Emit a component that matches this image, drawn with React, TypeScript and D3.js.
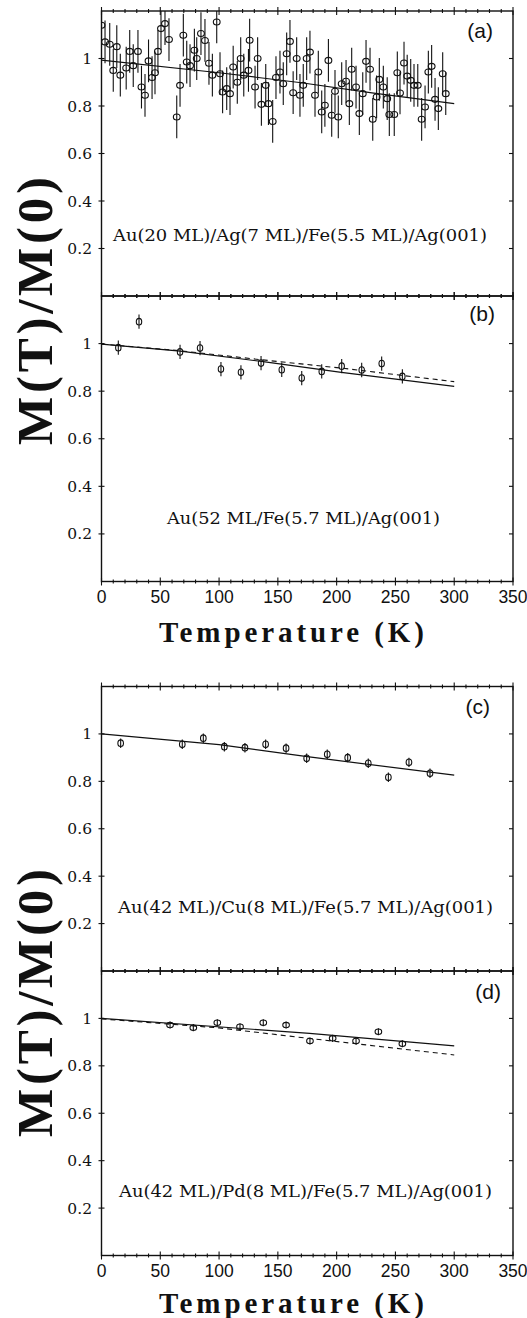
import React from 'react';
import * as d3 from 'd3';

// ---------- data ----------
const xTickLabels = ['0', '50', '100', '150', '200', '250', '300', '350'];
const yTickLabels = ['0.2', '0.4', '0.6', '0.8', '1'];

// panel (a)
const tempA = [0, 3, 7, 10, 13, 16, 21, 24, 27, 31, 34, 37, 40, 43, 45.5, 48, 50.6, 54, 57.4, 64, 66.8, 69.6, 72.5, 75.3, 79, 81, 84.6, 88, 91.4, 94.3, 98, 100.8, 103, 106.5, 109.3, 112, 115.5, 118.4, 121, 125, 126, 130.6, 132.8, 136, 139.7, 142, 145.6, 148.4, 151.8, 154.6, 157.5, 160.3, 163, 166, 168.8, 171.6, 174.5, 177.3, 181.6, 184.4, 187.3, 190, 193, 195.8, 198.6, 201.4, 204.3, 208, 210.8, 212.8, 216.5, 219.3, 222.2, 225, 228.4, 230.7, 234, 236.3, 239.7, 243, 244.8, 249, 251.6, 253.9, 257.3, 260, 263, 265.8, 269, 272.3, 275.2, 278, 280.8, 283.7, 286.5, 290.2, 292.8];
const magA = [1.14, 1.07, 1.06, 0.95, 1.05, 0.93, 0.96, 1.03, 0.97, 1.03, 0.88, 0.845, 0.99, 0.92, 0.94, 1.03, 1.126, 1.147, 1.08, 0.754, 0.887, 1.098, 0.985, 0.97, 1.035, 1.0, 1.105, 1.076, 0.98, 0.93, 1.154, 0.936, 0.859, 0.873, 0.852, 0.964, 0.9, 1.0, 0.93, 0.95, 1.077, 0.88, 1.0, 0.807, 0.887, 0.81, 0.735, 0.92, 0.943, 0.894, 1.02, 1.072, 0.856, 1.0, 0.845, 0.887, 1.0, 1.027, 0.845, 0.943, 0.775, 0.803, 0.992, 0.761, 0.862, 0.754, 0.894, 0.904, 0.81, 0.955, 0.88, 0.768, 0.852, 0.988, 0.955, 0.744, 0.838, 0.912, 0.88, 0.831, 0.764, 0.764, 0.94, 0.855, 0.981, 0.926, 0.908, 0.887, 0.887, 0.744, 0.796, 0.943, 0.967, 0.828, 0.789, 0.936, 0.852];
const errA = 0.09;
const fitSolidA: [number, number][] = [[0, 0.993], [100, 0.94], [170, 0.898], [230, 0.855], [300, 0.81]];

// panel (b)
const tempB = [14.3, 31.9, 66.8, 83.8, 101.6, 118.6, 135.7, 153.3, 170.3, 187.3, 204.3, 221.3, 238.3, 255.9];
const magB = [0.983, 1.092, 0.965, 0.981, 0.893, 0.879, 0.918, 0.89, 0.855, 0.883, 0.905, 0.889, 0.916, 0.862];
const errB = 0.03;
const fitSolidB: [number, number][] = [[0, 0.998], [67, 0.968], [136, 0.925], [204, 0.879], [300, 0.82]];
const fitDashB: [number, number][] = [[0, 0.998], [67, 0.97], [136, 0.932], [204, 0.897], [300, 0.84]];

// panel (c)
const tempC = [16.3, 68.7, 86.6, 104.5, 122, 139.6, 157, 174.5, 192, 209.4, 226.9, 244, 261.5, 279.4];
const magC = [0.961, 0.956, 0.982, 0.946, 0.942, 0.956, 0.94, 0.897, 0.914, 0.9, 0.876, 0.817, 0.88, 0.834];
const errC = 0.02;
const fitSolidC: [number, number][] = [[0, 1.0], [100, 0.955], [175, 0.904], [300, 0.826]];

// panel (d)
const tempD = [58.3, 78.1, 98.5, 117.8, 137.6, 157, 177.3, 196.6, 216.5, 235.5, 255.9];
const magD = [0.972, 0.961, 0.982, 0.965, 0.982, 0.972, 0.905, 0.916, 0.905, 0.944, 0.893];
const errD = 0.015;
const fitSolidD: [number, number][] = [[0, 1.0], [177, 0.937], [300, 0.884]];
const fitDashD: [number, number][] = [[0, 0.998], [100, 0.96], [176, 0.916], [300, 0.846]];

const labelA = 'Au(20 ML)/Ag(7 ML)/Fe(5.5 ML)/Ag(001)';
const labelB = 'Au(52 ML/Fe(5.7 ML)/Ag(001)';
const labelC = 'Au(42 ML)/Cu(8 ML)/Fe(5.7 ML)/Ag(001)';
const labelD = 'Au(42 ML)/Pd(8 ML)/Fe(5.7 ML)/Ag(001)';

// ---------- layout ----------
const LEFT = 101.5;
const RIGHT = 513;
const SERIF = '"DejaVu Serif", serif';
const TITLE = '"Liberation Serif", "Times New Roman", serif';
const SANS = '"Liberation Sans", Arial, sans-serif';

const x = d3.scaleLinear().domain([0, 350]).range([LEFT, RIGHT]);
const minorTicks = d3.range(0, 351, 10);

type PanelProps = {
  id: string;
  top: number;
  bottom: number;
  tag: string;
  tagX: number;
  tagY: number;
  text: string;
  textX0: number;
  textX1: number;
  textY: number;
  temps: number[];
  mags: number[];
  err: number;
  rx: number;
  ry: number;
  solid: [number, number][];
  dashed?: [number, number][];
};

function Panel(p: PanelProps) {
  const y = d3.scaleLinear().domain([0, 1.2]).range([p.bottom, p.top]);
  const line = d3.line<[number, number]>().x(d => x(d[0])).y(d => y(d[1]));
  const yTicks = [0.2, 0.4, 0.6, 0.8, 1.0];
  return (
    <g>
      <defs>
        <clipPath id={`clip-${p.id}`}>
          <rect x={LEFT} y={p.top} width={RIGHT - LEFT} height={p.bottom - p.top} />
        </clipPath>
      </defs>
      <g clipPath={`url(#clip-${p.id})`}>
        <path d={line(p.solid) || ''} fill="none" stroke="#111" strokeWidth={1.2} />
        {p.dashed && (
          <path d={line(p.dashed) || ''} fill="none" stroke="#111" strokeWidth={1.1} strokeDasharray="5,4" />
        )}
        {p.temps.map((t, i) => (
          <g key={i}>
            <line x1={x(t)} x2={x(t)} y1={y(p.mags[i] - p.err)} y2={y(p.mags[i] + p.err)} stroke="#111" strokeWidth={1.1} />
            <ellipse cx={x(t)} cy={y(p.mags[i])} rx={p.rx} ry={p.ry} fill="none" stroke="#111" strokeWidth={1.1} />
          </g>
        ))}
      </g>
      <rect x={LEFT} y={p.top} width={RIGHT - LEFT} height={p.bottom - p.top} fill="none" stroke="#111" strokeWidth={1.4} />
      {minorTicks.map(v => {
        const major = v % 50 === 0;
        const l = major ? 4 : 2;
        return (
          <g key={v}>
            <line x1={x(v)} x2={x(v)} y1={p.bottom - l} y2={p.bottom + l} stroke="#111" strokeWidth={1.1} />
            <line x1={x(v)} x2={x(v)} y1={p.top - l} y2={p.top + l} stroke="#111" strokeWidth={1.1} />
          </g>
        );
      })}
      {yTicks.map((v, i) => (
        <g key={v}>
          <line x1={LEFT - 3} x2={LEFT + 3} y1={y(v)} y2={y(v)} stroke="#111" strokeWidth={1.1} />
          <line x1={RIGHT - 4} x2={RIGHT} y1={y(v)} y2={y(v)} stroke="#111" strokeWidth={1.1} />
          <text x={92} y={y(v) + 5.5} textAnchor="end" fontFamily={SERIF} fontSize={15.5} fill="#111">
            {yTickLabels[i]}
          </text>
        </g>
      ))}
      <text x={p.tagX} y={p.tagY} textAnchor="end" fontFamily={SANS} fontSize={21} fill="#111">
        {p.tag}
      </text>
      <text
        x={p.textX0}
        y={p.textY}
        fontFamily={SERIF}
        fontSize={16}
        fill="#111"
        textLength={p.textX1 - p.textX0}
        lengthAdjust="spacingAndGlyphs"
      >
        {p.text}
      </text>
    </g>
  );
}

function XAxisLabels({ base }: { base: number }) {
  return (
    <g>
      {xTickLabels.map((s, i) => (
        <text key={s} x={x(i * 50)} y={base} textAnchor="middle" fontFamily={SANS} fontSize={17.5} fill="#111">
          {s}
        </text>
      ))}
    </g>
  );
}

function YTitle({ cy }: { cy: number }) {
  return (
    <text
      transform={`translate(51.5,${cy}) rotate(-90)`}
      x={-134}
      y={0}
      fontFamily={TITLE}
      fontWeight="bold"
      fontSize={51}
      fill="#111"
      textLength={268}
      lengthAdjust="spacing"
    >
      M(T)/M(0)
    </text>
  );
}

function XTitle({ base }: { base: number }) {
  return (
    <text
      x={159}
      y={base}
      fontFamily={TITLE}
      fontWeight="bold"
      fontSize={29}
      fill="#111"
      textLength={265}
      lengthAdjust="spacing"
    >
      Temperature (K)
    </text>
  );
}

export default function App() {
  return (
    <svg
      width={527}
      height={1318}
      viewBox="0 0 527 1318"
      style={{ position: 'absolute', left: 0, top: 0, background: '#fff' }}
    >
      <rect x={0} y={0} width={527} height={1318} fill="#fff" />
      <Panel id="a" top={11} bottom={296} tag="(a)" tagX={493} tagY={37.5} text={labelA} textX0={113} textX1={487} textY={241}
        temps={tempA} mags={magA} err={errA} rx={3.4} ry={3.0} solid={fitSolidA} />
      <Panel id="b" top={296} bottom={581.5} tag="(b)" tagX={495} tagY={321} text={labelB} textX0={167} textX1={440} textY={524}
        temps={tempB} mags={magB} err={errB} rx={2.7} ry={3.3} solid={fitSolidB} dashed={fitDashB} />
      <Panel id="c" top={686.5} bottom={971} tag="(c)" tagX={490} tagY={714} text={labelC} textX0={118} textX1={493} textY={913}
        temps={tempC} mags={magC} err={errC} rx={2.8} ry={3.3} solid={fitSolidC} />
      <Panel id="d" top={971} bottom={1255.5} tag="(d)" tagX={501} tagY={998.5} text={labelD} textX0={119} textX1={492} textY={1197}
        temps={tempD} mags={magD} err={errD} rx={3.3} ry={2.7} solid={fitSolidD} dashed={fitDashD} />
      <XAxisLabels base={603} />
      <XAxisLabels base={1277} />
      <XTitle base={642} />
      <XTitle base={1313} />
      <YTitle cy={311} />
      <YTitle cy={1003} />
    </svg>
  );
}
